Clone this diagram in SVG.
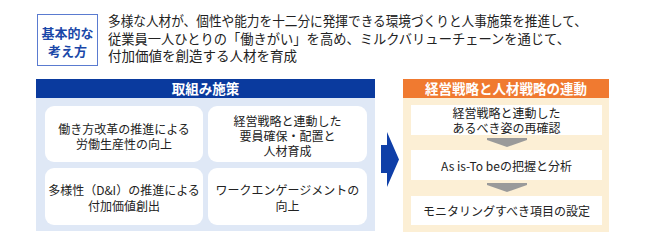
<svg xmlns="http://www.w3.org/2000/svg" width="645" height="244" viewBox="0 0 645 244">
<style>
text{font-family:"Noto Sans CJK JP","Noto Sans",sans-serif;fill:#222;}
.intro{font-size:13.5px;}
.lbl{font-size:13px;font-weight:bold;fill:#1a47a8;text-anchor:middle;}
.hd{font-size:13.5px;font-weight:bold;fill:#fff;text-anchor:middle;}
.bx{font-size:12px;text-anchor:middle;}
.wbox{fill:#fff;}
</style>
<rect width="645" height="244" fill="#fff"/>
<g id="principle">
<rect x="37.5" y="14.5" width="60" height="51" fill="#fff" stroke="#5a7bd0" stroke-width="1"/>
<text class="lbl" x="67.5" y="37.5">基本的な</text>
<text class="lbl" x="67.5" y="55.5">考え方</text>
<text class="intro" x="108" y="26" textLength="479" lengthAdjust="spacingAndGlyphs">多様な人材が、個性や能力を十二分に発揮できる環境づくりと人事施策を推進して、</text>
<text class="intro" x="108" y="44" textLength="462" lengthAdjust="spacingAndGlyphs">従業員一人ひとりの「働きがい」を高め、ミルクバリューチェーンを通じて、</text>
<text class="intro" x="108" y="61" textLength="189" lengthAdjust="spacingAndGlyphs">付加価値を創造する人材を育成</text>
</g>
<g id="initiatives">
<rect x="36" y="98" width="339" height="133" fill="#dfe8f6"/>
<rect x="36" y="79" width="339" height="19" fill="#0a3a9e"/>
<text class="hd" x="205.5" y="93.5">取組み施策</text>
</g>
<g id="box-workstyle">
<rect class="wbox" x="45" y="106" width="158" height="56" rx="9"/>
<text class="bx" x="124" y="134">働き方改革の推進による</text>
<text class="bx" x="124" y="149">労働生産性の向上</text>
</g>
<g id="box-staffing">
<rect class="wbox" x="208" y="106" width="159" height="56" rx="9"/>
<text class="bx" x="287.5" y="125.5">経営戦略と連動した</text>
<text class="bx" x="287.5" y="140.5">要員確保・配置と</text>
<text class="bx" x="287.5" y="155.5">人材育成</text>
</g>
<g id="box-diversity">
<rect class="wbox" x="45" y="168" width="158" height="57" rx="9"/>
<text class="bx" x="124" y="195">多様性（D&amp;I）の推進による</text>
<text class="bx" x="124" y="211">付加価値創出</text>
</g>
<g id="box-engagement">
<rect class="wbox" x="208" y="168" width="159" height="57" rx="9"/>
<text class="bx" x="287.5" y="195">ワークエンゲージメントの</text>
<text class="bx" x="287.5" y="211">向上</text>
</g>
<g id="linkage">
<rect x="403" y="98" width="206" height="134" fill="#fcefd5"/>
<rect x="403" y="79" width="206" height="19" fill="#f07a30"/>
<text class="hd" x="506" y="93.5">経営戦略と人材戦略の連動</text>
</g>
<g id="step-reconfirm">
<rect class="wbox" x="411" y="105" width="191" height="30"/>
<text class="bx" x="506.5" y="117.5">経営戦略と連動した</text>
<text class="bx" x="506.5" y="132.5">あるべき姿の再確認</text>
</g>
<g id="step-asis">
<rect class="wbox" x="411" y="150" width="191" height="30"/>
<text class="bx" x="506.5" y="171">As is-To beの把握と分析</text>
</g>
<g id="step-monitor">
<rect class="wbox" x="411" y="196" width="191" height="29"/>
<text class="bx" x="506.5" y="216">モニタリングすべき項目の設定</text>
</g>
<g id="connectors">
<polygon points="381,145 387,145 387,132 399,159.5 387,187 387,173 381,173" fill="#0f3fa8"/>
<polygon points="487,138 527,138 527,140 507,147 487,140" fill="#9a9a9a"/>
<polygon points="487,183 527,183 527,185 507,192 487,185" fill="#9a9a9a"/>
</g>
</svg>
